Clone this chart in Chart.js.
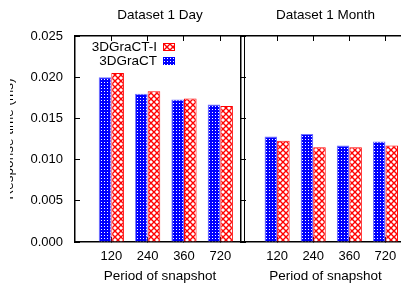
<!DOCTYPE html>
<html>
<head>
  <meta charset="UTF-8">
  <title>Response time by snapshot period</title>

  <!-- Chart.js -->
  <script src="https://cdn.jsdelivr.net/npm/chart.js"></script>

  <style>
    body {
      margin: 0;
      background: #fff;
      overflow: hidden;
      font-family: "Liberation Sans", Arial, sans-serif;
    }
    #wrap {
      position: relative;
      width: 401px;
      height: 289px;
      overflow: hidden;
    }
    #dayChart { position: absolute; left: 10px; top: 0; }
    #monthChart { position: absolute; left: 235px; top: 0; }
    .legend {
      position: absolute;
      left: 40px;
      width: 117px;
      text-align: right;
      font-size: 13.5px;
      line-height: 14px;
      color: #000;
    }
    .swatch {
      position: absolute;
      left: 163px;
      width: 12px;
      height: 8px;
      box-sizing: border-box;
    }
  </style>
</head>
<body>
  <div id="wrap">
    <canvas id="dayChart" width="235" height="289"></canvas>
    <canvas id="monthChart" width="175" height="289"></canvas>

    <!-- legend, gnuplot style: text first, box after -->
    <div class="legend" style="top:40px">3DGraCT-I</div>
    <div class="swatch" id="swRed" style="top:43px"></div>
    <div class="legend" style="top:54px">3DGraCT</div>
    <div class="swatch" id="swBlue" style="top:57px"></div>
  </div>

  <script>
    // Data
    const periods = ["120", "240", "360", "720"];
    const dayGract = [0.0200, 0.0180, 0.0173, 0.0167];
    const dayGractI = [0.0205, 0.0183, 0.0174, 0.0165];
    const monthGract = [0.0128, 0.0131, 0.0117, 0.0122];
    const monthGractI = [0.0123, 0.0115, 0.0115, 0.0117];

    const FONT = "'Liberation Sans', Arial, sans-serif";

    // Fill patterns (blue with white dots, red crosshatch)
    function makeTile(kind) {
      const c = document.createElement("canvas");
      const g = c.getContext("2d");
      if (kind === "dots") {
        c.width = 3; c.height = 3;
        g.fillStyle = "#0000ff";
        g.fillRect(0, 0, 3, 3);
        g.fillStyle = "#ffffff";
        g.fillRect(1, 1, 1, 1);
      } else {
        c.width = 6; c.height = 6;
        g.fillStyle = "#ffffff";
        g.fillRect(0, 0, 6, 6);
        g.strokeStyle = "#ff0000";
        g.lineWidth = 1.4;
        g.beginPath();
        g.moveTo(-1, -1); g.lineTo(7, 7);
        g.moveTo(7, -1); g.lineTo(-1, 7);
        g.stroke();
      }
      return c;
    }
    const blueTile = makeTile("dots");
    const redTile = makeTile("hatch");
    const ctxTmp = document.createElement("canvas").getContext("2d");
    const bluePattern = ctxTmp.createPattern(blueTile, "repeat");
    const redPattern = ctxTmp.createPattern(redTile, "repeat");

    document.getElementById("swBlue").style.background = "url(" + blueTile.toDataURL() + ")";
    const swRed = document.getElementById("swRed");
    swRed.style.background = "url(" + redTile.toDataURL() + ")";
    swRed.style.border = "1px solid #ff0000";

    // x positions 1..4, one per snapshot period
    function points(values) {
      return values.map((v, i) => ({ x: i + 1, y: v }));
    }

    function setCategoryTicks(scale) {
      scale.ticks = periods.map((p, i) => ({ value: i + 1 }));
    }

    function panelOptions(title, showY) {
      const tickGrid = {
        offset: false,
        drawOnChartArea: false,
        drawTicks: true,
        tickLength: -5,
        color: "#000",
        tickColor: "#000",
        lineWidth: 1
      };
      const border = { display: true, color: "#000", width: 1.5 };
      const font = { family: FONT, size: 13 };
      const titleFont = { family: FONT, size: 13.5, weight: "normal", lineHeight: 1.2 };

      return {
        responsive: false,
        devicePixelRatio: 1,
        animation: false,
        layout: { padding: 0 },
        plugins: {
          legend: { display: false },
          tooltip: { enabled: false },
          title: {
            display: true,
            text: title,
            fullSize: false,
            color: "#000",
            font: titleFont,
            padding: { top: 6.9, bottom: 12.9 }
          }
        },
        scales: {
          x: {
            type: "linear",
            position: "bottom",
            offset: false,
            min: 0,
            max: 4.68,
            afterBuildTicks: setCategoryTicks,
            afterFit: s => { s.height = 47; },
            grid: tickGrid,
            border: border,
            ticks: { color: "#000", font: font, padding: 12, autoSkip: false, maxRotation: 0, callback: v => periods[v - 1] },
            title: {
              display: true,
              text: "Period of snapshot",
              color: "#000",
              font: titleFont,
              padding: { top: 0, bottom: 5 }
            }
          },
          x2: {
            type: "linear",
            position: "top",
            offset: false,
            min: 0,
            max: 4.68,
            afterBuildTicks: setCategoryTicks,
            afterFit: s => { s.height = 0; },
            grid: tickGrid,
            border: border,
            ticks: { display: false }
          },
          y: {
            position: "left",
            min: 0,
            max: 0.025,
            afterFit: s => { s.width = showY ? 65 : 6; },
            grid: tickGrid,
            border: border,
            ticks: {
              display: showY,
              stepSize: 0.005,
              color: "#000",
              font: font,
              padding: 17,
              callback: v => v.toFixed(3)
            },
            title: {
              // the original image cuts this label off at its left edge
              display: showY,
              text: "Response time (ms)",
              color: "#000",
              font: { family: FONT, size: 13.5, lineHeight: 0.01 },
              padding: { top: -0.7, bottom: 0 }
            }
          },
          y2: {
            position: "right",
            min: 0,
            max: 0.025,
            afterFit: s => { s.width = 0; },
            grid: tickGrid,
            border: border,
            ticks: { display: false, stepSize: 0.005 }
          }
        }
      };
    }

    function panelData(gract, gractI) {
      return {
        datasets: [
          {
            label: "3DGraCT",
            data: points(gract),
            backgroundColor: bluePattern,
            borderColor: "#7070ff",
            borderWidth: 1,
            categoryPercentage: 0.694,
            barPercentage: 1
          },
          {
            label: "3DGraCT-I",
            data: points(gractI),
            backgroundColor: redPattern,
            borderColor: "#ff0000",
            borderWidth: 1,
            categoryPercentage: 0.694,
            barPercentage: 1
          }
        ]
      };
    }

    // Left panel: one day
    const dayChart = new Chart(document.getElementById("dayChart"), {
      type: "bar",
      data: panelData(dayGract, dayGractI),
      options: panelOptions("Dataset 1 Day", true)
    });

    // Right panel: one month
    const monthChart = new Chart(document.getElementById("monthChart"), {
      type: "bar",
      data: panelData(monthGract, monthGractI),
      options: panelOptions("Dataset 1 Month", false)
    });
  </script>
</body>
</html>
